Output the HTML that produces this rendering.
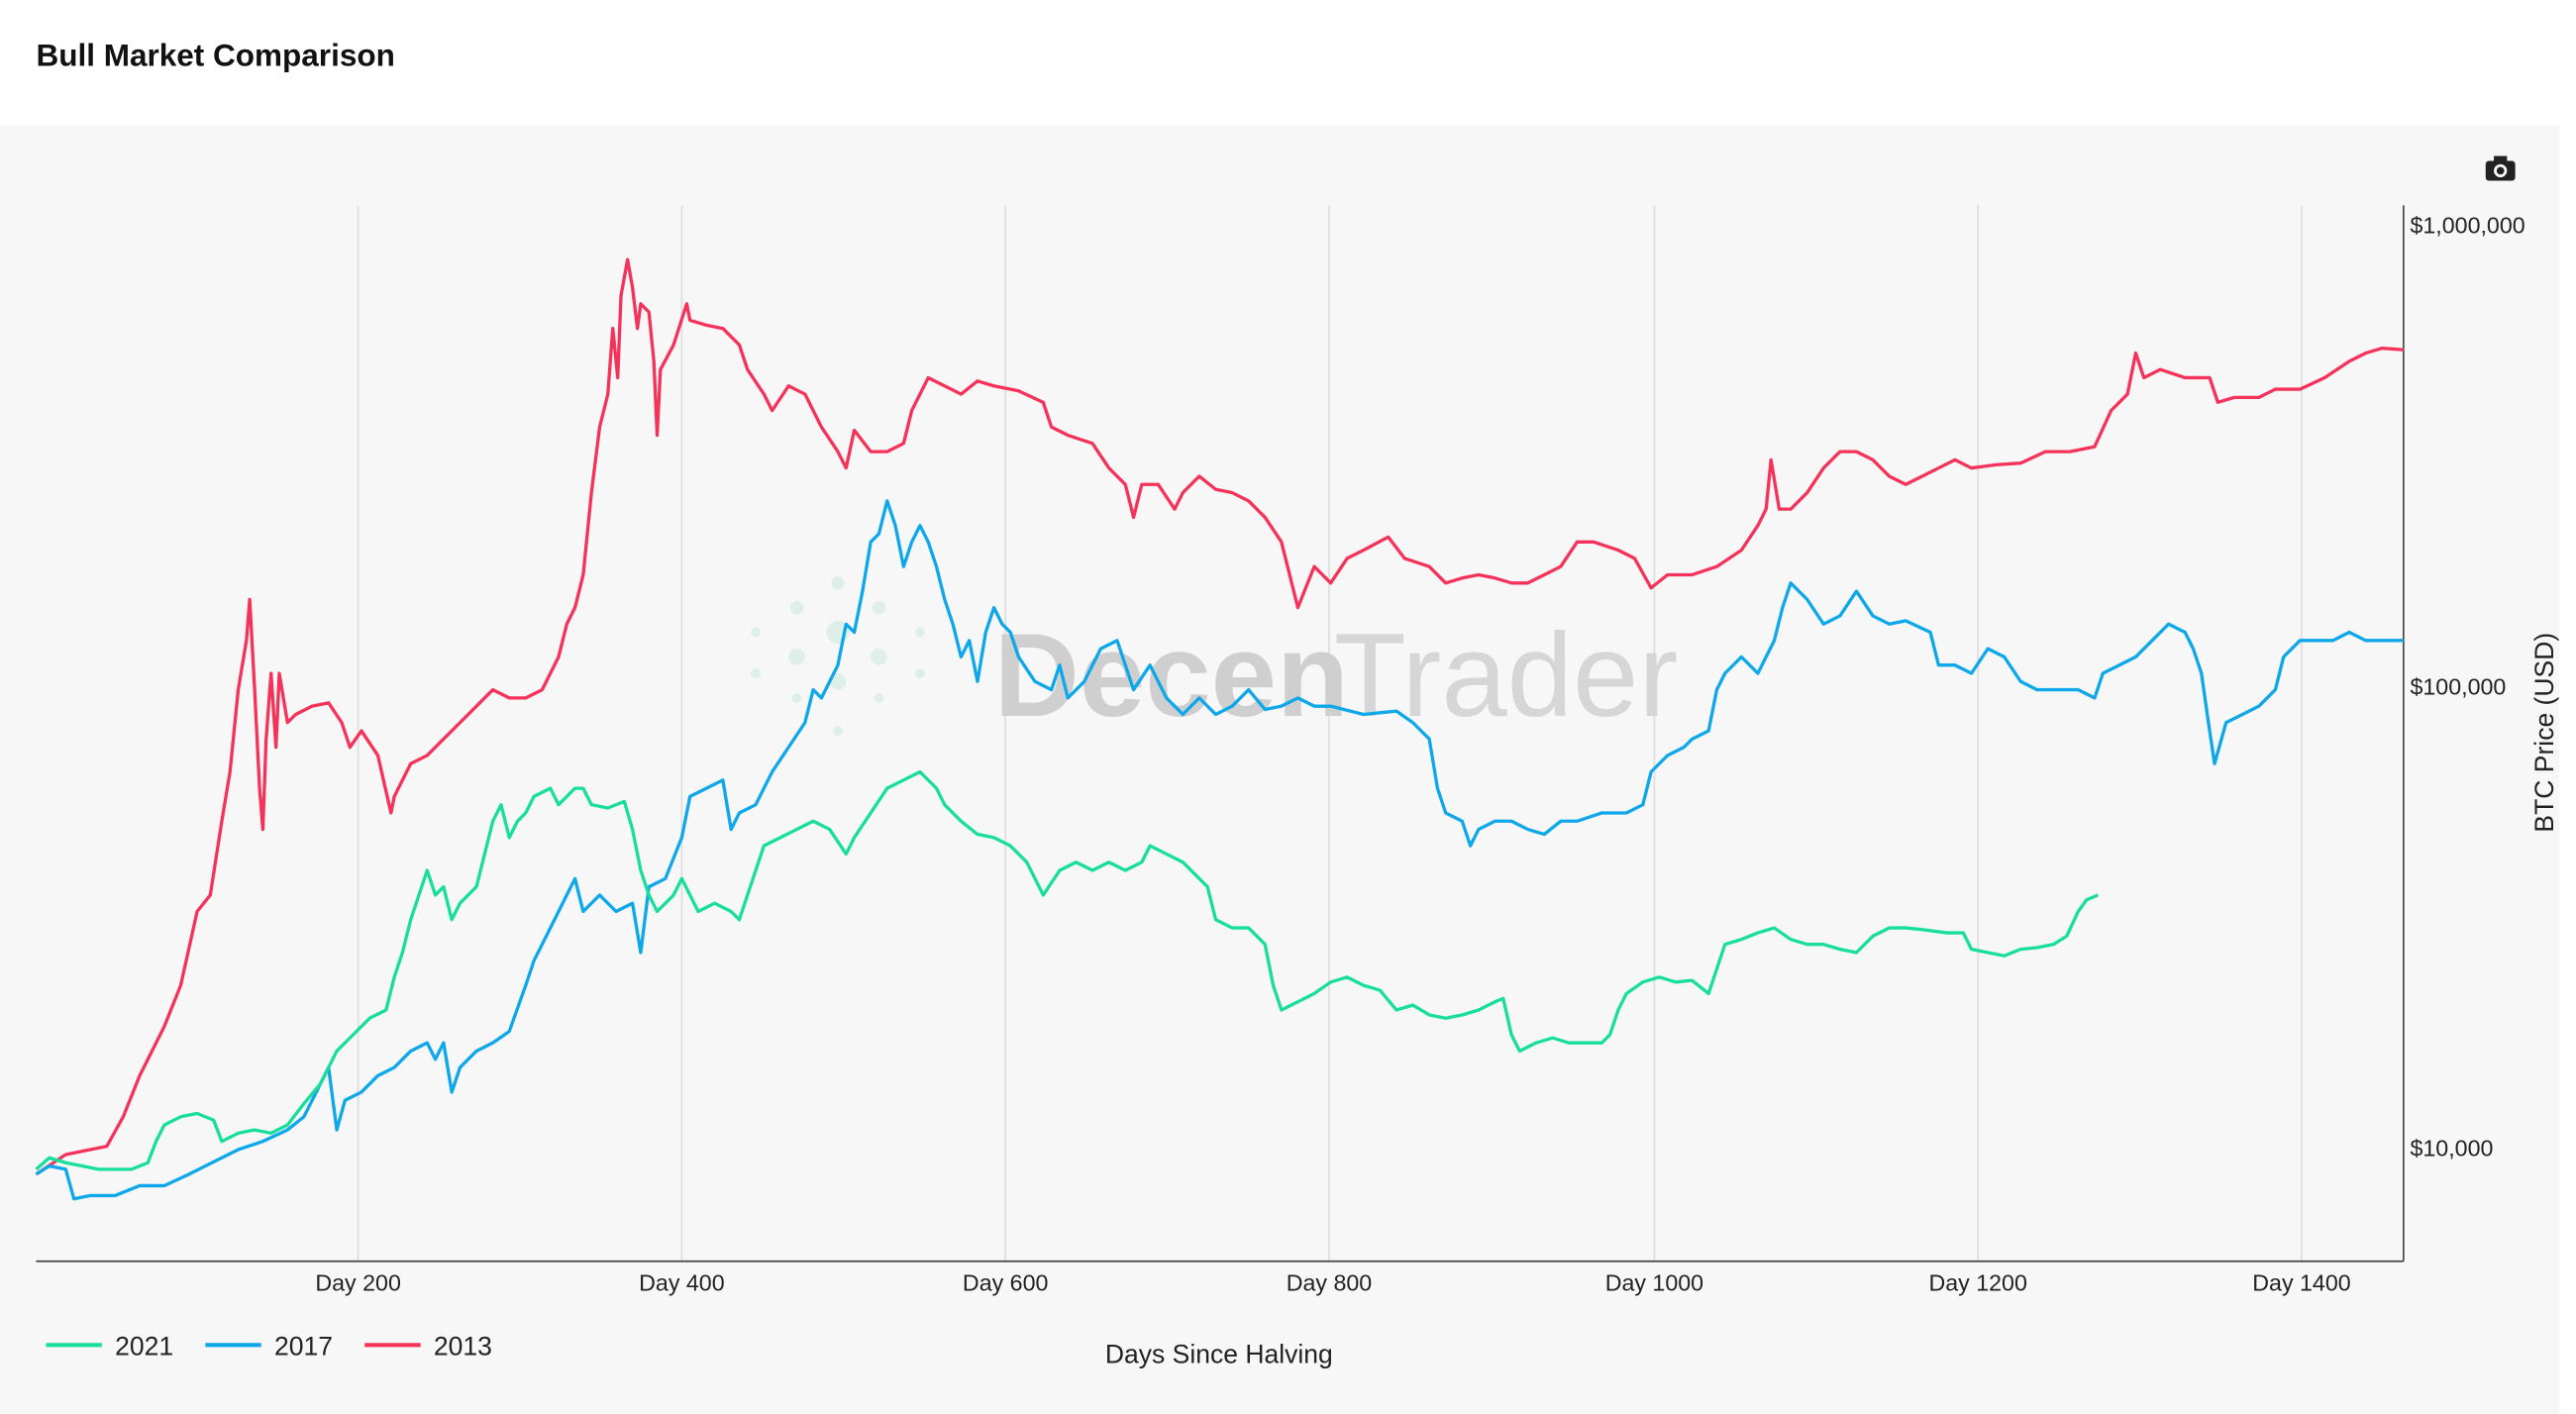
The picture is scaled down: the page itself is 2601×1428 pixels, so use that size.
<!DOCTYPE html>
<html><head><meta charset="utf-8"><style>
html,body{margin:0;padding:0;background:#fff;}
svg{display:block;}
</style></head><body>
<svg width="2601" height="1428" viewBox="0 0 1568 861" preserveAspectRatio="none" font-family="'Liberation Sans',sans-serif">
<rect x="0" y="0" width="1568" height="861" fill="#fff"/>
<rect x="0" y="76" width="1558" height="785" fill="#f7f7f7"/>
<text x="22" y="40" font-size="19" font-weight="bold" fill="#111">Bull Market Comparison</text>
<!-- camera -->
<g transform="translate(1522,104)"><rect x="-9" y="-6" width="18" height="12" rx="2" fill="#222"/><rect x="-4" y="-9" width="8" height="4" fill="#222"/><circle r="4" fill="#f7f7f7"/><circle r="2.3" fill="#222"/></g>
<!-- grid -->
<g stroke="#ddd" stroke-width="1">
<line x1="218" y1="125" x2="218" y2="768"/><line x1="415" y1="125" x2="415" y2="768"/><line x1="612" y1="125" x2="612" y2="768"/><line x1="809" y1="125" x2="809" y2="768"/><line x1="1007" y1="125" x2="1007" y2="768"/><line x1="1204" y1="125" x2="1204" y2="768"/><line x1="1401" y1="125" x2="1401" y2="768"/>
</g>
<line x1="22" y1="768" x2="1463" y2="768" stroke="#444" stroke-width="1"/>
<line x1="1463" y1="125" x2="1463" y2="768" stroke="#444" stroke-width="1"/>
<!-- watermark -->
<g fill="#d8eee6" opacity="0.8">
<circle cx="510" cy="385" r="7"/><circle cx="485" cy="400" r="5"/><circle cx="535" cy="400" r="5"/><circle cx="510" cy="355" r="4"/><circle cx="485" cy="370" r="4"/><circle cx="535" cy="370" r="4"/><circle cx="460" cy="385" r="3"/><circle cx="560" cy="385" r="3"/><circle cx="510" cy="415" r="5"/><circle cx="485" cy="425" r="3"/><circle cx="535" cy="425" r="3"/><circle cx="460" cy="410" r="3"/><circle cx="560" cy="410" r="3"/><circle cx="510" cy="445" r="3"/>
</g>
<text x="605" y="436" font-size="72" font-weight="bold" fill="#cfcfcf">Decen</text>
<text x="812" y="436" font-size="72" fill="#d6d6d6">Trader</text>
<!-- axis labels -->
<g font-size="14" fill="#222" text-anchor="middle">
<text x="218" y="786">Day 200</text><text x="415" y="786">Day 400</text><text x="612" y="786">Day 600</text><text x="809" y="786">Day 800</text><text x="1007" y="786">Day 1000</text><text x="1204" y="786">Day 1200</text><text x="1401" y="786">Day 1400</text>
</g>
<g font-size="14" fill="#222">
<text x="1467" y="142">$1,000,000</text><text x="1467" y="423">$100,000</text><text x="1467" y="704">$10,000</text>
</g>
<text transform="translate(1554,446) rotate(-90)" font-size="16" fill="#222" text-anchor="middle">BTC Price (USD)</text>
<text x="742" y="830" font-size="16" fill="#222" text-anchor="middle">Days Since Halving</text>
<!-- legend -->
<g font-size="16" fill="#222">
<line x1="28" y1="819" x2="62" y2="819" stroke="#18de9b" stroke-width="2.5"/><text x="70" y="825">2021</text>
<line x1="125" y1="819" x2="159" y2="819" stroke="#0ea8ea" stroke-width="2.5"/><text x="167" y="825">2017</text>
<line x1="222" y1="819" x2="256" y2="819" stroke="#f5335a" stroke-width="2.5"/><text x="264" y="825">2013</text>
</g>
<g fill="none" stroke-width="2" stroke-linejoin="round">
<polyline stroke="#f5335a" points="22,715 40,703 65,698 75,680 85,655 100,625 110,600 120,555 128,545 135,500 140,470 145,420 150,390 152,365 155,420 158,480 160,505 162,450 165,410 168,455 170,410 175,440 180,435 190,430 200,428 208,440 213,455 220,445 230,460 238,495 240,485 250,465 260,460 270,450 280,440 290,430 300,420 310,425 320,425 330,420 340,400 345,380 350,370 355,350 360,300 365,260 370,240 373,200 376,230 378,180 382,158 385,175 388,200 390,185 395,190 398,220 400,265 402,225 410,210 418,185 420,195 430,198 440,200 450,210 455,225 465,240 470,250 480,235 490,240 500,260 510,275 515,285 520,262 530,275 540,275 550,270 555,250 565,230 575,235 585,240 595,232 605,235 620,238 635,245 640,260 650,265 665,270 675,285 685,295 690,315 695,295 705,295 715,310 720,300 730,290 740,298 750,300 760,305 770,315 780,330 790,370 800,345 810,355 820,340 830,335 845,327 855,340 870,345 880,355 890,352 900,350 910,352 920,355 930,355 940,350 950,345 960,330 970,330 985,335 995,340 1005,358 1015,350 1030,350 1045,345 1060,335 1070,320 1075,310 1078,280 1083,310 1090,310 1100,300 1110,285 1120,275 1130,275 1140,280 1150,290 1160,295 1170,290 1180,285 1190,280 1200,285 1215,283 1230,282 1245,275 1260,275 1275,272 1285,250 1295,240 1300,215 1305,230 1315,225 1330,230 1345,230 1350,245 1360,242 1375,242 1385,237 1400,237 1415,230 1430,220 1440,215 1450,212 1463,213"/>
<polyline stroke="#0ea8ea" points="22,715 30,710 40,712 45,730 55,728 70,728 85,722 100,722 115,715 125,710 135,705 145,700 160,695 175,688 185,680 195,660 200,650 205,688 210,670 220,665 230,655 240,650 250,640 260,635 265,645 270,635 275,665 280,650 290,640 300,635 310,628 320,600 325,585 335,565 345,545 350,535 355,555 365,545 375,555 385,550 390,580 395,540 405,535 415,510 420,485 430,480 440,475 445,505 450,495 460,490 470,470 480,455 490,440 495,420 500,425 510,405 515,380 520,385 525,360 530,330 535,325 540,305 545,320 550,345 555,330 560,320 565,330 570,345 575,365 580,380 585,400 590,390 595,415 600,385 605,370 610,380 615,385 620,400 630,415 640,420 645,405 650,425 660,415 670,395 680,390 690,420 700,405 710,425 720,435 730,425 740,435 750,430 760,420 770,432 780,430 790,425 800,430 810,430 830,435 850,433 860,440 870,450 875,480 880,495 890,500 895,515 900,505 910,500 920,500 930,505 940,508 950,500 960,500 975,495 990,495 1000,490 1005,470 1015,460 1025,455 1030,450 1040,445 1045,420 1050,410 1060,400 1070,410 1080,390 1085,370 1090,355 1100,365 1110,380 1120,375 1130,360 1140,375 1150,380 1160,378 1175,385 1180,405 1190,405 1200,410 1210,395 1220,400 1230,415 1240,420 1250,420 1265,420 1275,425 1280,410 1290,405 1300,400 1310,390 1320,380 1330,385 1335,395 1340,410 1345,445 1348,465 1355,440 1365,435 1375,430 1385,420 1390,400 1400,390 1410,390 1420,390 1430,385 1440,390 1450,390 1463,390"/>
<polyline stroke="#18de9b" points="22,712 30,705 40,708 50,710 60,712 70,712 80,712 90,708 95,695 100,685 110,680 120,678 130,682 135,695 145,690 155,688 165,690 175,685 185,672 195,660 205,640 215,630 225,620 235,615 240,595 245,580 250,560 255,545 260,530 265,545 270,540 275,560 280,550 290,540 295,520 300,500 305,490 310,510 315,500 320,495 325,485 335,480 340,490 350,480 355,480 360,490 370,492 380,488 385,505 390,530 395,545 400,555 410,545 415,535 425,555 435,550 445,555 450,560 455,545 460,530 465,515 475,510 485,505 495,500 505,505 515,520 520,510 530,495 540,480 550,475 560,470 570,480 575,490 585,500 595,508 605,510 615,515 625,525 635,545 645,530 655,525 665,530 675,525 685,530 695,525 700,515 710,520 720,525 730,535 735,540 740,560 750,565 760,565 770,575 775,600 780,615 790,610 800,605 810,598 820,595 830,600 840,603 850,615 860,612 870,618 880,620 890,618 900,615 910,610 915,608 920,630 925,640 935,635 945,632 955,635 965,635 975,635 980,630 985,615 990,605 1000,598 1010,595 1020,598 1030,597 1040,605 1045,590 1050,575 1060,572 1070,568 1080,565 1090,572 1100,575 1110,575 1120,578 1130,580 1140,570 1150,565 1160,565 1170,566 1185,568 1195,568 1200,578 1210,580 1220,582 1230,578 1240,577 1250,575 1258,570 1265,555 1270,548 1277,545"/>
</g>
</svg>
</body></html>
